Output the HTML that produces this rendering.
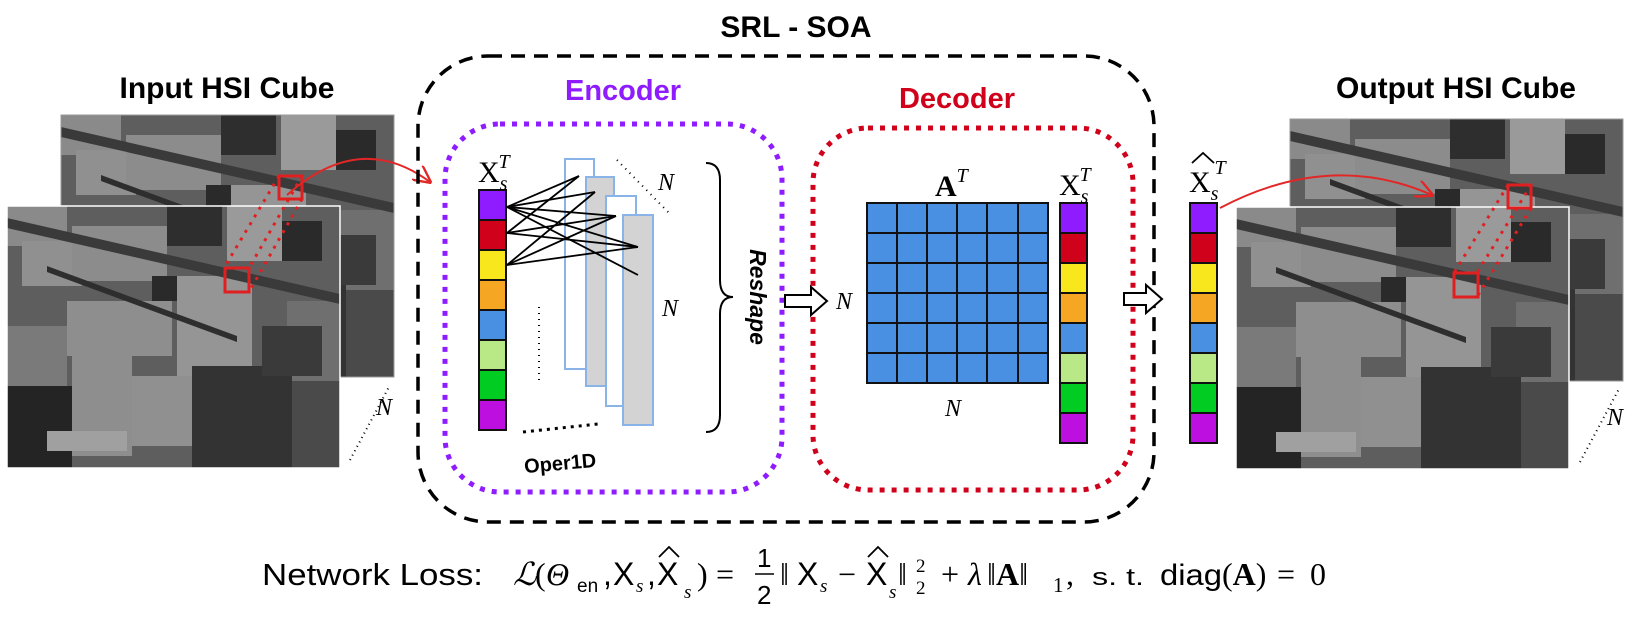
<!DOCTYPE html>
<html><head><meta charset="utf-8"><style>
html,body{margin:0;padding:0;background:#fff;}
svg{display:block}
.t{font-family:"Liberation Sans",sans-serif;font-weight:bold}
.m{font-family:"Liberation Serif",serif;font-style:italic}
.r{font-family:"Liberation Serif",serif}
</style></head><body>
<svg width="1642" height="622" viewBox="0 0 1642 622" xmlns="http://www.w3.org/2000/svg">
<defs>
<g id="hsi">
<rect x="0" y="0" width="333" height="262" fill="#5e5e5e"/>
<rect x="0" y="0" width="60" height="40" fill="#8a8a8a"/>
<rect x="15" y="35" width="60" height="45" fill="#909090"/>
<rect x="65" y="20" width="95" height="55" fill="#8c8c8c"/>
<rect x="160" y="0" width="55" height="40" fill="#2e2e2e"/>
<rect x="220" y="0" width="55" height="55" fill="#9a9a9a"/>
<rect x="275" y="15" width="40" height="40" fill="#2a2a2a"/>
<rect x="60" y="95" width="105" height="55" fill="#8e8e8e"/>
<rect x="170" y="70" width="75" height="100" fill="#959595"/>
<rect x="145" y="70" width="25" height="25" fill="#2a2a2a"/>
<rect x="280" y="95" width="53" height="80" fill="#6f6f6f"/>
<rect x="0" y="120" width="60" height="60" fill="#7a7a7a"/>
<rect x="0" y="180" width="65" height="82" fill="#242424"/>
<rect x="65" y="150" width="60" height="100" fill="#8e8e8e"/>
<rect x="125" y="170" width="60" height="70" fill="#909090"/>
<rect x="185" y="160" width="100" height="102" fill="#333"/>
<rect x="255" y="120" width="60" height="50" fill="#3a3a3a"/>
<rect x="40" y="225" width="80" height="20" fill="#a0a0a0"/>
<rect x="285" y="175" width="48" height="87" fill="#4a4a4a"/>
<path d="M0 12 L333 88 L333 98 L0 22Z" fill="#3a3a3a"/>
<path d="M40 60 L230 130 L230 136 L40 66Z" fill="#2e2e2e"/>
</g>
<g id="col" stroke="#111" stroke-width="2">
<rect x="0" y="0" width="27" height="30" fill="#8e1cff"/>
<rect x="0" y="30" width="27" height="30" fill="#d0021b"/>
<rect x="0" y="60" width="27" height="30" fill="#f8e71c"/>
<rect x="0" y="90" width="27" height="30" fill="#f5a623"/>
<rect x="0" y="120" width="27" height="30" fill="#4a90e2"/>
<rect x="0" y="150" width="27" height="30" fill="#b8e986"/>
<rect x="0" y="180" width="27" height="30" fill="#00cc22"/>
<rect x="0" y="210" width="27" height="30" fill="#bd10e0"/>
</g>
<marker id="ar" viewBox="0 0 10 10" refX="9" refY="5" markerWidth="9" markerHeight="9" orient="auto"><path d="M0 0 L10 5 L0 10" fill="none" stroke="#e32626" stroke-width="1.3"/></marker>
</defs>

<!-- titles -->
<text x="796" y="37" class="t" font-size="30" text-anchor="middle">SRL - SOA</text>
<text x="227" y="98" class="t" font-size="30" text-anchor="middle">Input HSI Cube</text>
<text x="1456" y="98" class="t" font-size="30" text-anchor="middle">Output HSI Cube</text>

<!-- input images -->
<g transform="translate(61,115)"><use href="#hsi"/></g>
<rect x="61" y="115" width="333" height="262" fill="none" stroke="#999" stroke-width="1"/>
<g transform="translate(7,206)"><use href="#hsi"/></g>
<rect x="7" y="206" width="333" height="262" fill="none" stroke="#fff" stroke-width="1.5"/>
<g stroke="#e02020" stroke-width="3" stroke-dasharray="3,6" fill="none">
<line x1="279" y1="176" x2="224" y2="268"/><line x1="302" y1="176" x2="249" y2="268"/><line x1="302" y1="199" x2="249" y2="292"/>
</g>
<rect x="279" y="176" width="23" height="23" fill="none" stroke="#e02020" stroke-width="3"/>
<rect x="225" y="268" width="24" height="24" fill="none" stroke="#e02020" stroke-width="3"/>
<path d="M287 195 Q360 130 430 182" fill="none" stroke="#e32626" stroke-width="2" marker-end="url(#ar)"/>
<line x1="350" y1="460" x2="390" y2="385" stroke="#000" stroke-width="2" stroke-dasharray="1,4"/>
<text x="376" y="415" class="m" font-size="24">N</text>

<!-- SRL-SOA box -->
<rect x="418" y="56" width="736" height="466" rx="70" fill="none" stroke="#000" stroke-width="3.5" stroke-dasharray="14,9"/>

<!-- encoder / decoder boxes -->
<text x="623" y="100" font-family="Liberation Sans,sans-serif" font-weight="bold" font-size="29" fill="#8e1cff" text-anchor="middle">Encoder</text>
<rect x="445" y="124" width="337" height="368" rx="55" fill="none" stroke="#8e1cff" stroke-width="5" stroke-dasharray="5,7"/>
<text x="957" y="108" font-family="Liberation Sans,sans-serif" font-weight="bold" font-size="29" fill="#d0021b" text-anchor="middle">Decoder</text>
<rect x="813" y="128" width="320" height="362" rx="55" fill="none" stroke="#d0021b" stroke-width="5" stroke-dasharray="5,7"/>

<use href="#col" transform="translate(479,190)"/>
<text x="478" y="182" class="r" font-size="30">X<tspan class="m" font-size="20" dy="8">s</tspan><tspan class="m" font-size="20" dx="-9" dy="-22">T</tspan></text>

<!-- layers -->
<rect x="565" y="159" width="29" height="210" fill="#fff" stroke="#8ab4e8" stroke-width="2"/>
<rect x="586" y="177" width="28" height="209" fill="#d3d3d3" stroke="#8ab4e8" stroke-width="2"/>
<rect x="606" y="196" width="30" height="210" fill="#fff" stroke="#8ab4e8" stroke-width="2"/>
<rect x="623" y="215" width="30" height="210" fill="#d3d3d3" stroke="#8ab4e8" stroke-width="2"/>
<g stroke="#000" stroke-width="1.8">
<line x1="507" y1="207" x2="579" y2="176"/><line x1="507" y1="207" x2="595" y2="192"/><line x1="507" y1="207" x2="616" y2="216"/><line x1="507" y1="207" x2="638" y2="247"/><line x1="507" y1="207" x2="638" y2="275"/>
<line x1="507" y1="233" x2="579" y2="176"/><line x1="507" y1="233" x2="616" y2="216"/><line x1="507" y1="233" x2="638" y2="247"/>
<line x1="507" y1="265" x2="595" y2="192"/><line x1="507" y1="265" x2="616" y2="216"/><line x1="507" y1="265" x2="638" y2="247"/>
</g>
<line x1="617" y1="160" x2="670" y2="214" stroke="#000" stroke-width="2" stroke-dasharray="1,5"/>
<text x="658" y="190" class="m" font-size="24">N</text>
<line x1="539" y1="307" x2="539" y2="382" stroke="#000" stroke-width="2" stroke-dasharray="1,5"/>
<text x="662" y="316" class="m" font-size="24">N</text>
<line x1="523" y1="432" x2="598" y2="424" stroke="#000" stroke-width="3" stroke-dasharray="3,5"/>
<text x="560" y="470" class="t" font-size="20" text-anchor="middle" transform="rotate(-5 560 462)">Oper1D</text>
<path d="M706 163 Q720 163 720 180 L720 280 Q720 297 733 297 Q720 297 720 314 L720 415 Q720 432 706 432" fill="none" stroke="#000" stroke-width="2"/>
<text x="0" y="0" font-family="Liberation Sans,sans-serif" font-weight="bold" font-style="italic" font-size="23" text-anchor="middle" transform="translate(750 297) rotate(90)">Reshape</text>

<!-- arrows -->
<path d="M785 295 L811 295 L811 287 L827 301 L811 315 L811 307 L785 307Z" fill="#fff" stroke="#000" stroke-width="2"/>
<text x="836" y="309" class="m" font-size="24">N</text>
<path d="M1124 293 L1146 293 L1146 285 L1162 299 L1146 313 L1146 305 L1124 305Z" fill="#fff" stroke="#000" stroke-width="2"/>

<!-- matrix -->
<g stroke="#111" stroke-width="2" fill="#4a90e2">
<rect x="867" y="203" width="181" height="180"/>
<line x1="897" y1="203" x2="897" y2="383"/><line x1="927" y1="203" x2="927" y2="383"/><line x1="957" y1="203" x2="957" y2="383"/><line x1="987" y1="203" x2="987" y2="383"/><line x1="1018" y1="203" x2="1018" y2="383"/>
<line x1="867" y1="233" x2="1048" y2="233"/><line x1="867" y1="263" x2="1048" y2="263"/><line x1="867" y1="293" x2="1048" y2="293"/><line x1="867" y1="323" x2="1048" y2="323"/><line x1="867" y1="353" x2="1048" y2="353"/>
</g>
<text x="935" y="196" class="r" font-weight="bold" font-size="30">A<tspan class="m" font-weight="normal" font-size="20" dy="-14">T</tspan></text>
<text x="945" y="416" class="m" font-size="24">N</text>
<use href="#col" transform="translate(1060,203)"/>
<text x="1059" y="195" class="r" font-size="30">X<tspan class="m" font-size="20" dy="8">s</tspan><tspan class="m" font-size="20" dx="-9" dy="-22">T</tspan></text>

<!-- output column -->
<use href="#col" transform="translate(1190,203)"/>
<text x="1189" y="192" class="r" font-size="30">X<tspan class="m" font-size="20" dy="8">s</tspan><tspan class="m" font-size="20" dx="-4" dy="-26">T</tspan></text>
<path d="M1192 163 L1203 153 L1214 163" fill="none" stroke="#000" stroke-width="1.8"/>

<!-- output images -->
<g transform="translate(1290,119)"><use href="#hsi"/></g>
<rect x="1290" y="119" width="333" height="262" fill="none" stroke="#999" stroke-width="1"/>
<g transform="translate(1236,207)"><use href="#hsi"/></g>
<rect x="1236" y="207" width="333" height="262" fill="none" stroke="#fff" stroke-width="1.5"/>
<g stroke="#e02020" stroke-width="3" stroke-dasharray="3,6" fill="none">
<line x1="1508" y1="185" x2="1454" y2="273"/><line x1="1531" y1="185" x2="1477" y2="273"/><line x1="1531" y1="208" x2="1477" y2="297"/>
</g>
<rect x="1508" y="185" width="23" height="23" fill="none" stroke="#e02020" stroke-width="3"/>
<rect x="1454" y="273" width="24" height="24" fill="none" stroke="#e02020" stroke-width="3"/>
<path d="M1220 208 Q1330 150 1432 195" fill="none" stroke="#e32626" stroke-width="2" marker-end="url(#ar)"/>
<line x1="1580" y1="462" x2="1620" y2="387" stroke="#000" stroke-width="2" stroke-dasharray="1,4"/>
<text x="1607" y="425" class="m" font-size="24">N</text>

<!-- formula -->
<text x="262" y="585" font-family="Liberation Sans,sans-serif" font-size="31" textLength="221" lengthAdjust="spacingAndGlyphs">Network Loss:</text>
<g font-family="Liberation Sans,sans-serif" font-size="32">
<text x="513" y="585" font-family="Liberation Serif,serif" font-style="italic">ℒ</text>
<text x="535" y="585" font-family="Liberation Serif,serif">(</text>
<text x="546" y="585" font-family="Liberation Serif,serif" font-style="italic">Θ</text>
<text x="577" y="592" font-size="19">en</text>
<text x="603" y="585">,</text>
<text x="613" y="585">X</text>
<text x="636" y="592" class="m" font-size="19">s</text>
<text x="647" y="585">,</text>
<text x="657" y="585">X</text>
<path d="M659 557 L669 547 L679 557" fill="none" stroke="#000" stroke-width="1.8"/>
<text x="684" y="598" class="m" font-size="19">s</text>
<text x="697" y="585" font-family="Liberation Serif,serif">)</text>
<text x="716" y="585" font-family="Liberation Serif,serif">=</text>
<text x="757" y="567" font-size="26">1</text>
<line x1="755" y1="574" x2="774" y2="574" stroke="#000" stroke-width="1.6"/>
<text x="757" y="604" font-size="26">2</text>
<text x="780" y="585" font-family="Liberation Serif,serif">‖</text>
<text x="797" y="585">X</text>
<text x="820" y="592" class="m" font-size="19">s</text>
<text x="838" y="585" font-family="Liberation Serif,serif">−</text>
<text x="866" y="585">X</text>
<path d="M868 557 L878 547 L888 557" fill="none" stroke="#000" stroke-width="1.8"/>
<text x="889" y="598" class="m" font-size="19">s</text>
<text x="898" y="585" font-family="Liberation Serif,serif">‖</text>
<text x="916" y="572" font-family="Liberation Serif,serif" font-size="19">2</text>
<text x="916" y="594" font-family="Liberation Serif,serif" font-size="19">2</text>
<text x="941" y="585" font-family="Liberation Serif,serif">+</text>
<text x="968" y="585" font-family="Liberation Serif,serif" font-style="italic">λ</text>
<text x="987" y="585" font-family="Liberation Serif,serif">‖<tspan font-weight="bold">A</tspan>‖</text>
<text x="1053" y="592" font-family="Liberation Serif,serif" font-size="21">1</text>
<text x="1066" y="585" font-family="Liberation Serif,serif">,</text>
<text x="1092" y="585" font-size="24" textLength="52" lengthAdjust="spacingAndGlyphs">s. t.</text>
<text x="1160" y="585" font-size="30" textLength="62" lengthAdjust="spacingAndGlyphs">diag</text>
<text x="1222" y="585" font-family="Liberation Serif,serif">(<tspan font-weight="bold">A</tspan>)</text>
<text x="1277" y="585" font-family="Liberation Serif,serif">=</text>
<text x="1310" y="585" font-family="Liberation Serif,serif">0</text>
</g>
</svg>
</body></html>
